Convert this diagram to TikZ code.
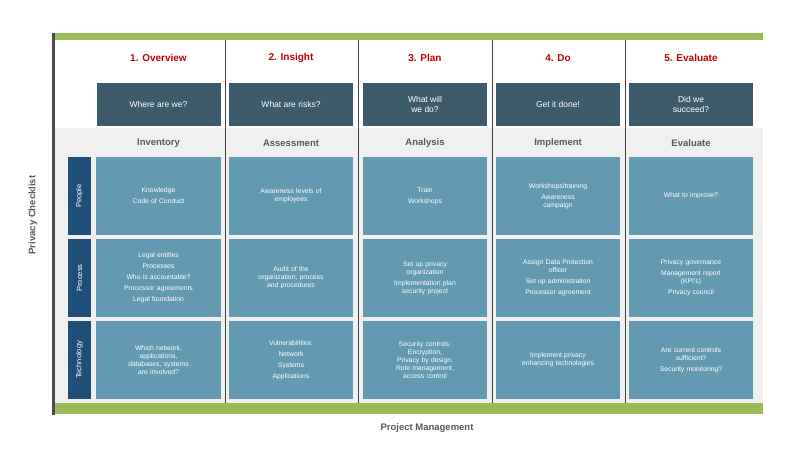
\documentclass[tikz,border=0pt]{standalone}
\usepackage{fontspec}
\setmainfont{Liberation Sans}
\usetikzlibrary{positioning}
\definecolor{barGreen}{HTML}{9BBB59}
\definecolor{headRed}{HTML}{C00000}
\definecolor{qBox}{HTML}{3D5B6B}
\definecolor{cellBlue}{HTML}{6399B1}
\definecolor{rowBlue}{HTML}{1F4E79}
\definecolor{subGray}{HTML}{595959}
\definecolor{bgGray}{HTML}{F0F0F0}
\tikzset{
  phase/.style={font=\bfseries\fontsize{10}{12}\selectfont, text=headRed},
  question/.style={fill=qBox, text=white, minimum width=124pt, minimum height=43pt, align=center, font=\fontsize{8.5}{10}\selectfont},
  stage/.style={font=\bfseries\fontsize{9.5}{11}\selectfont, text=subGray},
  cell/.style={fill=cellBlue, text=white, minimum width=124pt, minimum height=78pt, align=center, text width=118pt, font=\fontsize{6.8}{11}\selectfont},
  rowlabel/.style={fill=rowBlue, text=white, minimum width=78pt, minimum height=23pt, rotate=90, font=\fontsize{7.5}{9}\selectfont},
  axis/.style={font=\bfseries\fontsize{9.5}{11}\selectfont, text=subGray}
}
\begin{document}
\begin{tikzpicture}[x=1pt, y=-1pt]
  \useasboundingbox (0,0) rectangle (797,462);
  % frame
  \fill[bgGray] (55,128) rectangle (763,403);
  \fill[barGreen] (55,33) rectangle (763,40);
  \fill[barGreen] (55,403) rectangle (763,414);
  \fill[black!70] (52,33) rectangle (55,415);
  \foreach \x in {225,358,492,625}
    \draw[black!75, line width=0.8pt] (\x,40) -- (\x,403);
  % columns
  \foreach \i/\cx/\ph/\q/\st in {
      1/158.5/{1. Overview}/{Where are we?}/Inventory,
      2/291/{2. Insight}/{What are risks?}/Assessment,
      3/425/{3. Plan}/{What will\\we do?}/Analysis,
      4/558/{4. Do}/{Get it done!}/Implement,
      5/691/{5. Evaluate}/{Did we\\succeed?}/Evaluate} {
    \node[phase] (phase\i) at (\cx,58) {\ph};
    \node[question] (q\i) at (\cx,104.5) {\q};
    \node[stage] (stage\i) at (\cx,143) {\st};
  }
  % row labels
  \node[rowlabel] (people) at (79.5,196) {People};
  \node[rowlabel] (process) at (79.5,278) {Process};
  \node[rowlabel] (tech) at (79.5,360) {Technology};
  % people row
  \node[cell] (c11) at (158.5,196) {Knowledge\\Code of Conduct};
  \node[cell] (c21) at (291,196) {Awareness levels of\\[-3pt]employees};
  \node[cell] (c31) at (425,196) {Train\\Workshops};
  \node[cell] (c41) at (558,196) {Workshops/training\\Awareness\\[-3pt]campaign};
  \node[cell] (c51) at (691,196) {What to improve?};
  % process row
  \node[cell] (c12) at (158.5,278) {Legal entitles\\Processes\\Who is accountable?\\Processor agreements\\Legal foundation};
  \node[cell] (c22) at (291,278) {Audit of the\\[-3pt]organization, process\\[-3pt]and procedures};
  \node[cell] (c32) at (425,278) {Set up privacy\\[-3pt]organization\\Implementation plan\\[-3pt]security project};
  \node[cell] (c42) at (558,278) {Assign Data Protection\\[-3pt]officer\\Set up administration\\Processor agreement};
  \node[cell] (c52) at (691,278) {Privacy governance\\Management report\\[-3pt](KPI's)\\Privacy council};
  % technology row
  \node[cell] (c13) at (158.5,360) {Which network,\\[-3pt]applications,\\[-3pt]databases, systems\\[-3pt]are involved?};
  \node[cell] (c23) at (291,360) {Vulnerabilities:\\Network\\Systems\\Applications};
  \node[cell] (c33) at (425,360) {Security controls:\\[-3pt]Encryption,\\[-3pt]Privacy by design,\\[-3pt]Role management,\\[-3pt]access control};
  \node[cell] (c43) at (558,360) {Implement privacy\\[-3pt]enhancing technologies};
  \node[cell] (c53) at (691,360) {Are current controls\\[-3pt]sufficient?\\Security monitoring?};
  % axes
  \node[axis, rotate=90] (checklist) at (33,215) {Privacy Checklist};
  \node[axis] (pm) at (427,428) {Project Management};
\end{tikzpicture}
\end{document}
